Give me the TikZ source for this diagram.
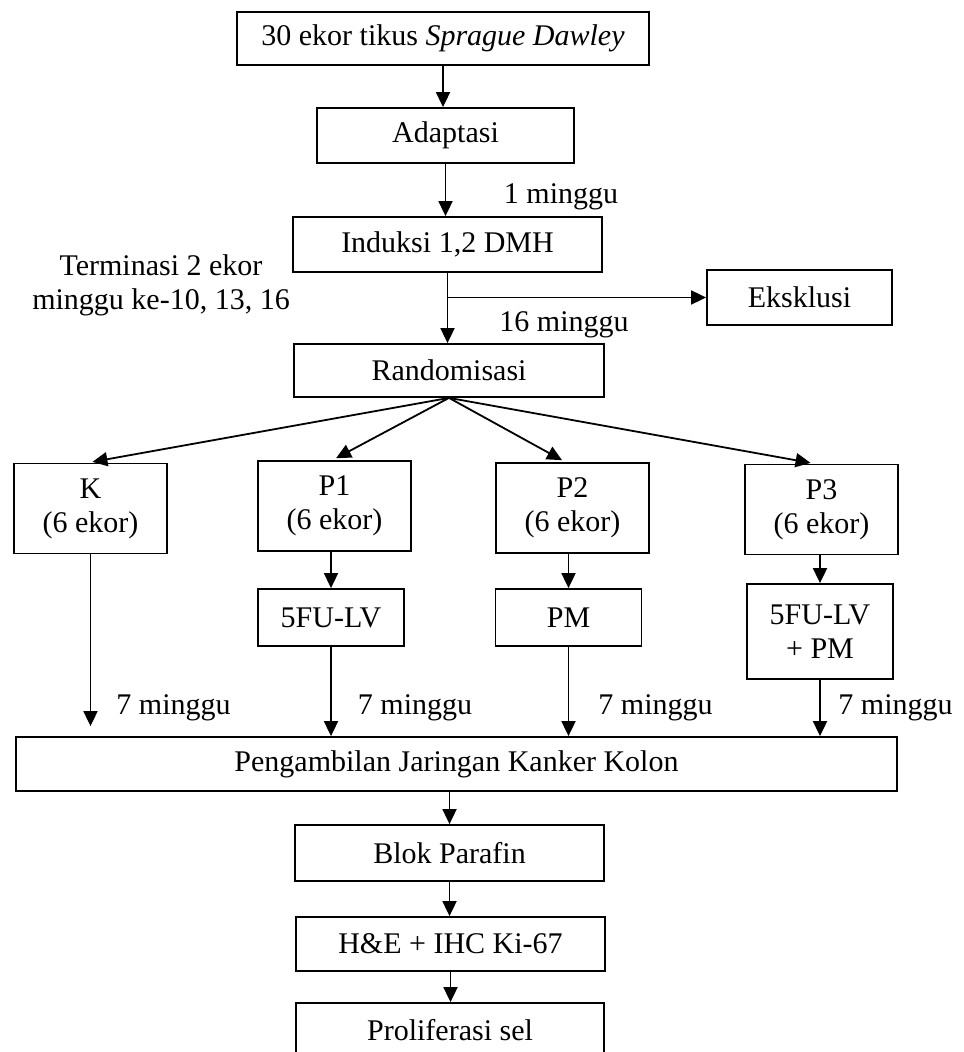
\documentclass[tikz,border=0pt]{standalone}
\usepackage{fontspec}
\setmainfont{Liberation Serif}
\usetikzlibrary{arrows.meta}
\begin{document}
\begin{tikzpicture}[x=0.5pt,y=-0.5pt,
    every node/.style={font=\fontsize{15}{17}\selectfont},
    box/.style={draw,line width=0.9pt,align=center,inner sep=0pt,minimum height=27.5pt},
    arr/.style={-{Triangle[length=7.5pt,width=7pt]},line width=0.9pt}]
  \useasboundingbox (0,0) rectangle (963,1052);
  \draw
    (443,38.5) node[box,minimum width=206pt,minimum height=26.5pt] (tikus){30 ekor tikus \textit{Sprague Dawley}}
    (445.5,135.5) node[box,minimum width=128.5pt] (adapt){Adaptasi}
    (447.5,244.5) node[box,minimum width=154.5pt] (induksi){Induksi 1,2 DMH}
    (799.5,297.5) node[box,minimum width=92.5pt] (eksklusi){Eksklusi}
    (449,370.5) node[box,minimum width=155pt,minimum height=26.5pt] (random){Randomisasi}
    (90.5,508.5) node[box,minimum width=76.5pt,minimum height=45pt] (k){K\\(6 ekor)}
    (334.5,506) node[box,minimum width=76.5pt,minimum height=45pt] (p1){P1\\(6 ekor)}
    (572.5,508) node[box,minimum width=76.5pt,minimum height=45pt] (p2){P2\\(6 ekor)}
    (821.5,509.5) node[box,minimum width=76.5pt,minimum height=45pt] (p3){P3\\(6 ekor)}
    (331,617.5) node[box,minimum width=73pt,minimum height=28.5pt] (fu){5FU-LV}
    (568.5,617.5) node[box,minimum width=73pt,minimum height=28.5pt] (pm){PM}
    (820,631.5) node[box,minimum width=73pt,minimum height=47.5pt] (fupm){5FU-LV\\+ PM}
    (456.5,764) node[box,minimum width=440.5pt,minimum height=27pt] (ambil){Pengambilan Jaringan Kanker Kolon}
    (449.5,853) node[box,minimum width=154.5pt,minimum height=28pt] (blok){Blok Parafin}
    (450.5,944) node[box,minimum width=154.5pt,minimum height=27pt] (he){H\&E + IHC Ki-67}
    (450,1030.5) node[box,minimum width=154pt] (prolif){Proliferasi sel};
  \draw
    (561,197) node (w1){1 minggu}
    (161,285) node[align=center] (term){Terminasi 2 ekor\\minggu ke-10, 13, 16}
    (564,325) node (w16){16 minggu}
    (173.5,708) node (w7k){7 minggu}
    (415,708) node (w7a){7 minggu}
    (655.5,708) node (w7b){7 minggu}
    (895.5,708) node (w7c){7 minggu};
  \begin{scope}[arr]
    \draw (tikus.south) -- (tikus.south |- adapt.north);
    \draw (adapt.south) -- (adapt.south |- induksi.north);
    \draw (induksi.south) -- (induksi.south |- random.north);
    \draw (induksi.south |- eksklusi) -- (eksklusi.west);
    \draw[shorten >=2pt] (random.south) -- ([xshift=-1pt]k.north);
    \draw[shorten >=2pt] (random.south) -- ([xshift=-1pt]p1.north);
    \draw[shorten >=2pt] (random.south) -- ([xshift=-3.5pt]p2.north);
    \draw[shorten >=2pt] (random.south) -- ([xshift=-3.5pt]p3.north);
    \draw (k.south) -- ([yshift=5pt]k.south |- ambil.north);
    \draw (p1.south -| fu) -- (fu.north);
    \draw (p2.south -| pm) -- (pm.north);
    \draw (p3.south -| fupm) -- (fupm.north);
    \draw (fu.south) -- (fu.south |- ambil.north);
    \draw (pm.south) -- (pm.south |- ambil.north);
    \draw (fupm.south) -- (fupm.south |- ambil.north);
    \draw (ambil.south -| blok) -- (blok.north);
    \draw (blok.south) -- (blok.south |- he.north);
    \draw (he.south) -- (he.south |- prolif.north);
  \end{scope}
\end{tikzpicture}
\end{document}
